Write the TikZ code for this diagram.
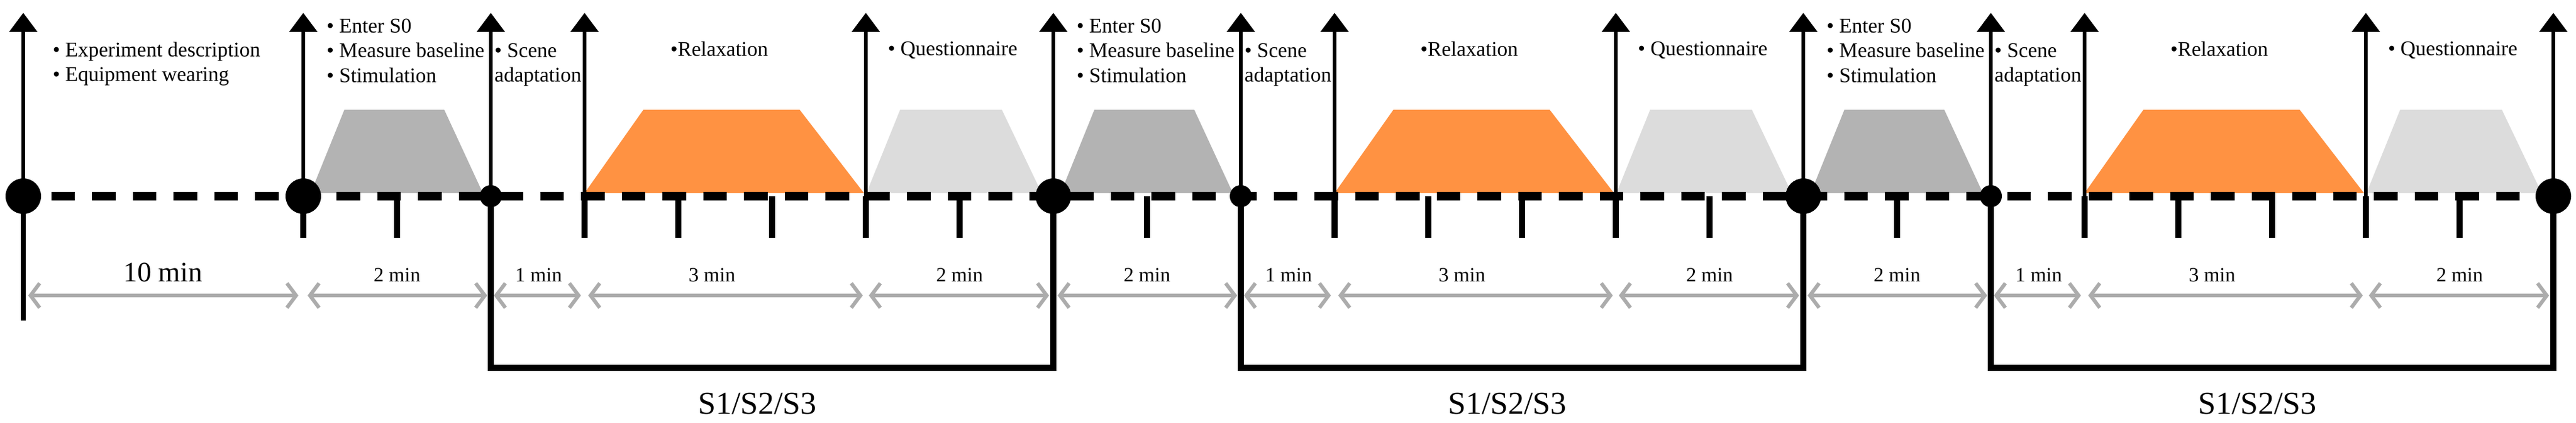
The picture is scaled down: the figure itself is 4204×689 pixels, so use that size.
\documentclass[tikz,border=0pt]{standalone}
\usepackage{fontspec}
\setmainfont{Liberation Serif}
\usetikzlibrary{arrows.meta}
\definecolor{stimgray}{RGB}{179,179,179}
\definecolor{qgray}{RGB}{220,220,220}
\definecolor{relaxorange}{RGB}{255,146,66}
\definecolor{dimgray}{RGB}{172,172,172}
\tikzset{
  bigdot/.style={circle,fill=black,inner sep=0pt,minimum size=58pt},
  smalldot/.style={circle,fill=black,inner sep=0pt,minimum size=36pt},
  uparrow/.style={line width=5.3pt,-{Triangle[length=31pt,width=45pt]}},
  tickline/.style={line width=10.5pt},
  startline/.style={line width=8.5pt},
  bracket/.style={line width=9.5pt,line join=miter},
  axis/.style={line width=13.5pt,dash pattern=on 38.5pt off 28pt,dash phase=21pt},
  dimarrow/.style={draw=dimgray,line width=6pt,
    {Straight Barb[length=15pt,width=40pt,line width=6pt]}-{Straight Barb[length=15pt,width=40pt,line width=6pt]}},
  bodytext/.style={inner sep=0pt,anchor=base west,font=\fontsize{34}{40.5}\selectfont},
  durtext/.style={inner sep=0pt,anchor=base,font=\fontsize{33}{40}\selectfont},
  bigdur/.style={inner sep=0pt,anchor=base,font=\fontsize{46}{50}\selectfont},
  sesstext/.style={inner sep=0pt,anchor=base,font=\fontsize{52}{60}\selectfont},
}
\begin{document}
\begin{tikzpicture}[x=1pt,y=-1pt]
\fill[white] (0,0) rectangle (4204,689);
\useasboundingbox (0,0) rectangle (4204,689);
% trapezoids
\foreach \k in {0,1,2}{
  \pgfmathsetmacro{\E}{495+1224*\k}
  \pgfmathsetmacro{\R}{\E+459}
  \pgfmathsetmacro{\Q}{\E+918}
  \fill[stimgray] (\E+12,315) -- (\E+67,179) -- (\E+230,179) -- (\E+293,315) -- cycle;
  \fill[relaxorange] (\R,315) -- (\R+96,179) -- (\Q-108,179) -- (\Q-3,315) -- cycle;
  \fill[qgray] (\Q+1,315) -- (\Q+56,179) -- (\Q+222,179) -- (\Q+287,315) -- cycle;
}
% named points on the time line
\node[bigdot] (C0) at (38,320) {};
\coordinate (tC0) at (38,21);
\coordinate (dC0) at (38,482);
\coordinate (endC0) at (38,523);
\foreach \k in {0,1,2,3}{
  \pgfmathsetmacro{\E}{495+1224*\k}
  \node[bigdot] (E\k) at (\E,320) {};
  \coordinate (tE\k) at (\E,21);
  \coordinate (dE\k) at (\E,482);
}
\foreach \k in {0,1,2}{
  \pgfmathsetmacro{\E}{495+1224*\k}
  \node[smalldot] (S\k) at (\E+306,320) {};
  \coordinate (R\k) at (\E+459,320);
  \coordinate (Q\k) at (\E+918,320);
  \coordinate (tS\k) at (\E+306,21);
  \coordinate (tR\k) at (\E+459,21);
  \coordinate (tQ\k) at (\E+918,21);
  \coordinate (dS\k) at (\E+306,482);
  \coordinate (dR\k) at (\E+459,482);
  \coordinate (dQ\k) at (\E+918,482);
  \coordinate (bl\k) at (\E+306,600);
  \coordinate (br\k) at (\E+1224,600);
}
% dimension arrows and durations
\draw[dimarrow] ([xshift=8pt]dC0) -- ([xshift=-8pt]dE0);
\node[bigdur] (dur0) at (266,459) {10 min};
\foreach \k in {0,1,2}{
  \pgfmathtruncatemacro{\kk}{\k+1}
  \pgfmathsetmacro{\E}{495+1224*\k}
  \draw[dimarrow] ([xshift=7pt]dE\k) -- ([xshift=-6pt]dS\k);
  \draw[dimarrow] ([xshift=5pt]dS\k) -- ([xshift=-6pt]dR\k);
  \draw[dimarrow] ([xshift=6pt]dR\k) -- ([xshift=-5pt]dQ\k);
  \draw[dimarrow] ([xshift=5pt]dQ\k) -- ([xshift=-7pt]dE\kk);
  \node[durtext] (da\k) at (\E+153,459) {2 min};
  \node[durtext] (db\k) at (\E+384,459) {1 min};
  \node[durtext] (dc\k) at (\E+667,459) {3 min};
  \node[durtext] (dd\k) at (\E+1071,459) {2 min};
}
% dashed time line
\draw[axis] (C0.center) -- (E3.center);
% minute ticks
\foreach \k in {0,1,2}{
  \foreach \j in {0,1,3,4,5,6,7}{
    \pgfmathsetmacro{\X}{495+1224*\k+153*\j}
    \draw[tickline] (\X,320) -- (\X,388);
  }
}
% session brackets
\foreach \k in {0,1,2}{
  \pgfmathtruncatemacro{\kk}{\k+1}
  \pgfmathsetmacro{\M}{495+1224*\k+765-24}
  \draw[bracket] (S\k.center) -- (bl\k) -- (br\k) -- (E\kk.center);
  \node[sesstext] (ses\k) at (\M,675) {S1/S2/S3};
}
\draw[startline] (C0.center) -- (endC0);
% up arrows
\draw[uparrow] (C0.center) -- (tC0);
\foreach \k in {0,1,2,3}{
  \draw[uparrow] (E\k.center) -- (tE\k);
}
\foreach \k in {0,1,2}{
  \draw[uparrow] (S\k.center) -- (tS\k);
  \draw[uparrow] (R\k) -- (tR\k);
  \draw[uparrow] (Q\k) -- (tQ\k);
}
% texts
\node[bodytext] (intro) at (86,92) {\vtop{\baselineskip=40pt\hbox{• Experiment description}\hbox{• Equipment wearing}}};
\foreach \k in {0,1,2}{
  \pgfmathsetmacro{\E}{495+1224*\k}
  \node[bodytext] (enter\k) at (\E+38,53) {\vtop{\baselineskip=40.5pt\hbox{• Enter S0}\hbox{• Measure baseline}\hbox{• Stimulation}}};
  \node[bodytext] (scene\k) at (\E+312,93) {\vtop{\baselineskip=40pt\hbox{• Scene}\hbox{adaptation}}};
  \node[bodytext] (relax\k) at (\E+599,91) {•Relaxation};
  \node[bodytext] (quest\k) at (\E+954,90) {• Questionnaire};
}
\end{tikzpicture}
\end{document}
